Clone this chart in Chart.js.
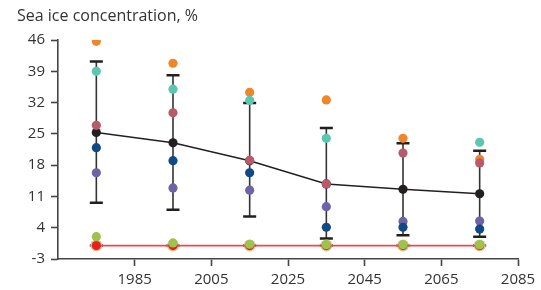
<!DOCTYPE html>
<html>
<head>
<meta charset="utf-8">
<script src="https://cdn.jsdelivr.net/npm/chart.js@4"></script>
<style>
  html, body { margin: 0; padding: 0; background: #fff; }
  #wrap { position: relative; width: 541px; height: 290px; }
  #title { position: absolute; left: 17px; top: 4px; font: 16px "Open Sans", sans-serif; color: #333; }
</style>
</head>
<body>
<div id="wrap">
  <div id="title">Sea ice concentration, %</div>
  <canvas id="chart" width="541" height="290"></canvas>
</div>
<script>
// Years and values
const years = [1975, 1995, 2015, 2035, 2055, 2075];
const yTicks = [-3, 4, 11, 18, 25, 32, 39, 46];
const xTicks = [1985, 2005, 2025, 2045, 2065, 2085];

const meanValues   = [25.3, 23.0, 19.0, 13.8, 12.6, 11.6];
const errHigh      = [41.2, 38.1, 31.9, 26.3, 22.9, 21.2];
const errLow       = [9.6, 8.0, 6.5, 1.6, 2.3, 2.0];

const orangeValues = [45.7, 40.8, 34.3, 32.6, 24.0, 19.3];
const tealValues   = [39.0, 35.0, 32.5, 24.0, null, 23.1];
const roseValues   = [26.9, 29.7, 19.1, 13.8, 20.7, 18.5];
const navyValues   = [21.9, 19.0, 16.3, 4.1, 4.1, 3.7];
const purpleValues = [16.3, 12.9, 12.4, 8.7, 5.4, 5.5];
const greenValues  = [2.0, 0.6, 0.3, 0.2, 0.2, 0.2];
const redValues    = [0, 0, 0, 0, 0, 0];
const khakiValues  = [0, 0, 0, 0, 0, 0];
const redErrHigh   = [0, 0, 0, 0, 0, 0];
const redErrLow    = [0, 0, 0, 0, 0, 0];

const pts = vals => years.map((x, i) => ({ x: x, y: vals[i] }));

function dots(vals, color, order, r) {
  return {
    data: pts(vals),
    showLine: false,
    pointRadius: r || 4.6,
    pointBackgroundColor: color,
    pointBorderWidth: 0,
    order: order
  };
}

// error bars drawn under the points
const errorBars = {
  id: 'errorBars',
  beforeDatasetsDraw(chart) {
    const { ctx, scales: { x, y } } = chart;
    ctx.save();
    const sets = [[errLow, errHigh], [redErrLow, redErrHigh]];
    sets.forEach(([lo, hi]) => {
      years.forEach((yr, i) => {
        const px = x.getPixelForValue(yr);
        const top = y.getPixelForValue(hi[i]);
        const bot = y.getPixelForValue(lo[i]);
        ctx.strokeStyle = '#333';
        ctx.lineWidth = 1.6;
        ctx.beginPath();
        ctx.moveTo(px, top);
        ctx.lineTo(px, bot);
        ctx.stroke();
        ctx.strokeStyle = '#231f20';
        ctx.lineWidth = 2.5;
        ctx.beginPath();
        ctx.moveTo(px - 6.5, top); ctx.lineTo(px + 6.5, top);
        ctx.moveTo(px - 6.5, bot); ctx.lineTo(px + 6.5, bot);
        ctx.stroke();
      });
    });
    ctx.restore();
  }
};

new Chart(document.getElementById('chart'), {
  type: 'line',
  data: {
    datasets: [
      dots(greenValues, '#9dc34c', 1),
      dots(roseValues, '#b85a6c', 2),
      dots(tealValues, '#5cc7b0', 3),
      dots(orangeValues, '#f0862a', 4),
      dots(navyValues, '#0f4a86', 5),
      dots(purpleValues, '#6c64a6', 6),
      {
        data: pts(meanValues),
        borderColor: '#231f20',
        borderWidth: 1.5,
        pointRadius: 4.6,
        pointBackgroundColor: '#231f20',
        pointBorderWidth: 0,
        order: 7
      },
      {
        data: pts(redValues),
        borderColor: '#f0474d',
        borderWidth: 1.8,
        pointRadius: 4.6,
        pointBackgroundColor: '#ec1c24',
        pointBorderWidth: 0,
        order: 8
      },
      dots(khakiValues, '#d7c98f', 9, 6)
    ]
  },
  options: {
    responsive: false,
    animation: false,
    layout: { padding: { top: 40, right: 23, left: 0, bottom: 0 } },
    plugins: {
      legend: { display: false },
      tooltip: { enabled: false }
    },
    scales: {
      x: {
        type: 'linear',
        min: 1965,
        max: 2085,
        afterBuildTicks: axis => { axis.ticks = xTicks.map(v => ({ value: v })); },
        afterFit: axis => { axis.height = 31; },
        border: { color: '#444', width: 1.6 },
        grid: { drawOnChartArea: false, drawTicks: true, tickLength: 7, tickColor: '#444', tickWidth: 1.6 },
        ticks: { color: '#333', font: { family: 'Open Sans', size: 15 }, padding: 5, maxRotation: 0, callback: v => String(v) }
      },
      y: {
        min: -3,
        max: 46,
        afterBuildTicks: axis => { axis.ticks = yTicks.map(v => ({ value: v })); },
        afterFit: axis => { axis.width = 58; },
        border: { color: '#444', width: 1.6 },
        grid: { drawOnChartArea: false, drawTicks: true, tickLength: 7, tickColor: '#444', tickWidth: 1.6 },
        ticks: { color: '#333', font: { family: 'Open Sans', size: 15 }, padding: 6 }
      }
    }
  },
  plugins: [errorBars]
});
</script>
</body>
</html>
